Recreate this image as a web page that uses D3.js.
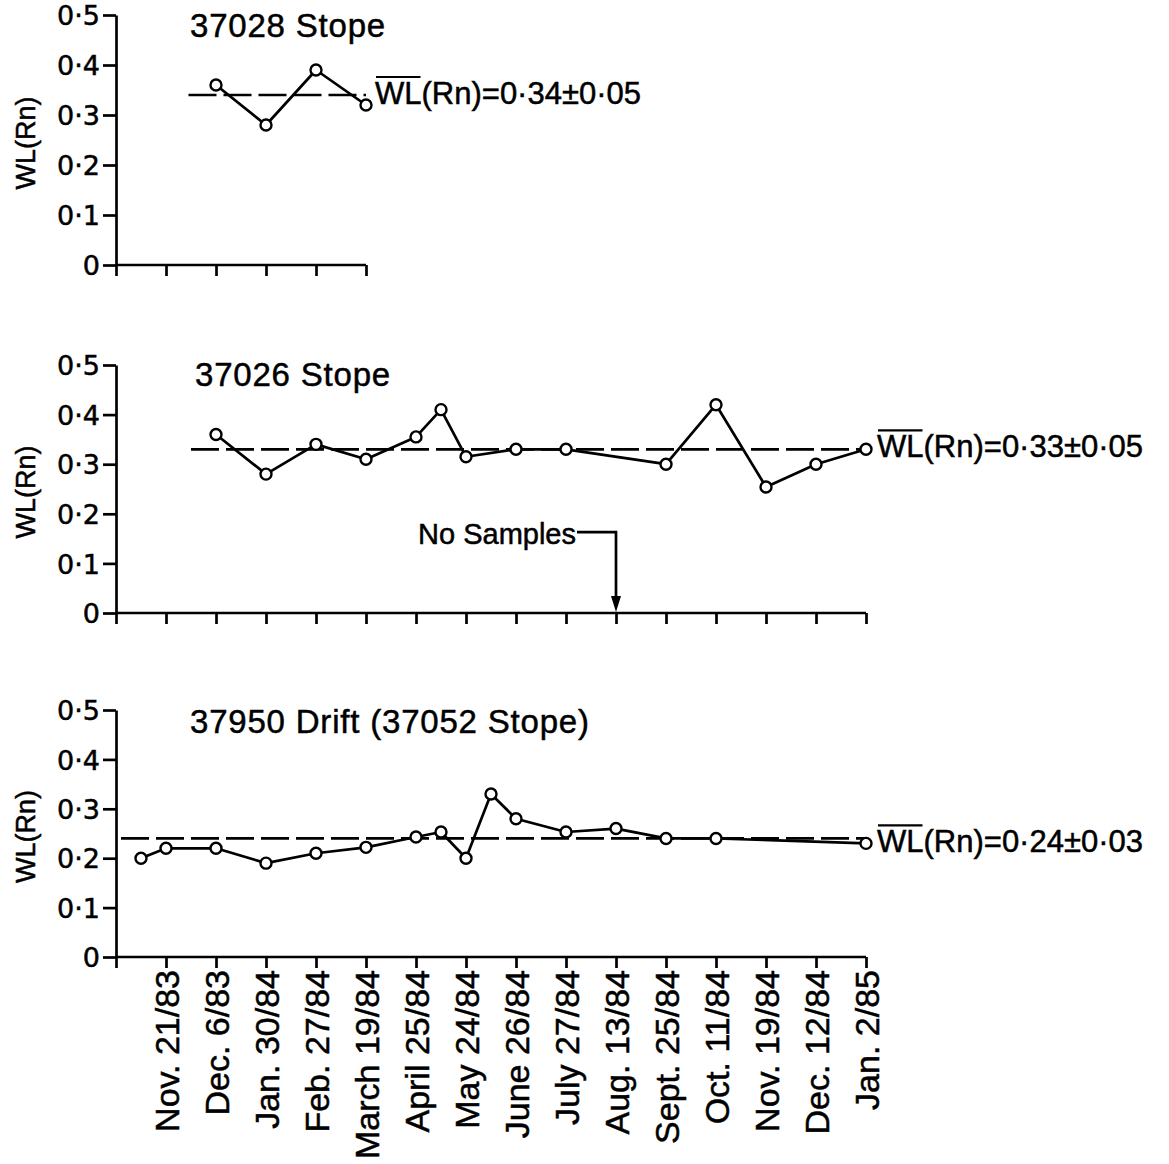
<!DOCTYPE html>
<html>
<head>
<meta charset="utf-8">
<script src="https://cdn.jsdelivr.net/npm/d3@7"></script>
<style>
  html, body { margin: 0; padding: 0; background: #fff; }
  svg { display: block; }
  text { font-family: "Liberation Sans", Arial, sans-serif; fill: #000; stroke: #000; stroke-width: 0.5px; }
</style>
</head>
<body>
<svg id="chart" width="1169" height="1164"></svg>
<script>
// ---------------- DATA ----------------
const dateLabels = ["Nov. 21/83", "Dec. 6/83", "Jan. 30/84", "Feb. 27/84", "March 19/84",
  "April 25/84", "May 24/84", "June 26/84", "July 27/84", "Aug. 13/84", "Sept. 25/84",
  "Oct. 11/84", "Nov. 19/84", "Dec. 12/84", "Jan. 2/85"];
const yTickValues = [0, 0.1, 0.2, 0.3, 0.4, 0.5];
const yTickLabels = ["0", "0·1", "0·2", "0·3", "0·4", "0·5"];

const panelTitles = ["37028 Stope", "37026 Stope", "37950 Drift (37052 Stope)"];
const meanValues = [0.34, 0.33, 0.24];
const meanLabels = ["WL(Rn)=0·34±0·05", "WL(Rn)=0·33±0·05", "WL(Rn)=0·24±0·03"];
// mean line extent in sample-slot units
const meanStart = [0.45, 0.5, -0.9];
const meanEnd = [4, 14, 14];

// sample slot = index in dateLabels (fractional = sample between two dated ticks)
const p1Slots = [1, 2, 3, 4];
const p1Values = [0.36, 0.28, 0.39, 0.32];
const p2Slots = [1, 2, 3, 4, 5, 5.5, 6, 7, 8, 10, 11, 12, 13, 14];
const p2Values = [0.36, 0.28, 0.34, 0.31, 0.355, 0.41, 0.315, 0.33, 0.33, 0.30, 0.42, 0.254, 0.30, 0.33];
const p3Slots = [-0.5, 0, 1, 2, 3, 4, 5, 5.5, 6, 6.5, 7, 8, 9, 10, 11, 14];
const p3Values = [0.20, 0.22, 0.22, 0.19, 0.21, 0.222, 0.243, 0.253, 0.20, 0.33, 0.28, 0.253, 0.26, 0.24, 0.24, 0.23];

const noSampleSlot = 9;
const noSampleText = "No Samples";
const yTitle = "WL(Rn)";

// ---------------- LAYOUT ----------------
const svg = d3.select("#chart");
const x = d3.scaleLinear().domain([-1, 14]).range([116, 866]);

const panels = [
  { top: 15, bottom: 265, lastSlot: 4, slots: p1Slots, values: p1Values, titleX: 190, titleDy: 22,
    labelX: x(4) + 9, labelDy: 9, dates: false },
  { top: 365, bottom: 613, lastSlot: 14, slots: p2Slots, values: p2Values, titleX: 195, titleDy: 21,
    labelX: x(14) + 11, labelDy: 8, dates: false },
  { top: 710, bottom: 957, lastSlot: 14, slots: p3Slots, values: p3Values, titleX: 190, titleDy: 23,
    labelX: x(14) + 11, labelDy: 14, dates: true }
];

const SW = 2.7;

panels.forEach((p, k) => {
  const y = d3.scaleLinear().domain([0, 0.5]).range([p.bottom, p.top]);
  const g = svg.append("g");

  // Y axis
  const yAxis = d3.axisLeft(y)
    .tickValues(yTickValues)
    .tickFormat((d, i) => yTickLabels[i])
    .tickSize(13).tickSizeOuter(0).tickPadding(3);
  const ya = g.append("g").attr("transform", `translate(${x(-1)},0)`).call(yAxis);
  ya.selectAll("path, line").attr("stroke", "#000").attr("stroke-width", SW);
  ya.selectAll("text").style("font-size", "27px").style("font-family", "'DejaVu Sans', sans-serif").attr("dy", "0.36em");

  // X axis
  const xt = d3.range(-1, p.lastSlot + 1);
  const xAxis = d3.axisBottom(x)
    .tickValues(xt)
    .tickFormat(d => (p.dates && d >= 0) ? dateLabels[d] : "")
    .tickSize(11).tickSizeOuter(0).tickPadding(3);
  const xa = g.append("g").attr("transform", `translate(0,${p.bottom})`).call(xAxis);
  xa.select(".domain").attr("d", `M${x(-1)},0H${x(p.lastSlot)}`);
  xa.selectAll("path, line").attr("stroke", "#000").attr("stroke-width", SW);
  xa.selectAll("text")
    .style("font-size", "34px")
    .attr("text-anchor", "end")
    .attr("transform", "rotate(-90)")
    .attr("x", -13).attr("y", 0).attr("dy", "0.36em");

  // Y title
  const cy = (p.top + p.bottom) / 2 + 3;
  g.append("text")
    .attr("transform", `translate(35,${cy}) rotate(-90)`)
    .attr("text-anchor", "middle")
    .style("font-size", "27px")
    .text(yTitle);

  // Panel title
  g.append("text")
    .attr("x", p.titleX).attr("y", p.top + p.titleDy)
    .style("font-size", "33px")
    .style("letter-spacing", "0.8px")
    .text(panelTitles[k]);

  // Mean dashed line
  g.append("line")
    .attr("x1", x(meanStart[k])).attr("x2", x(meanEnd[k]))
    .attr("y1", y(meanValues[k])).attr("y2", y(meanValues[k]))
    .attr("stroke", "#000").attr("stroke-width", SW)
    .attr("stroke-dasharray", "28,7");

  // Data line
  const pts = p.slots.map((s, i) => [s, p.values[i]]);
  g.append("path")
    .datum(pts)
    .attr("fill", "none").attr("stroke", "#000").attr("stroke-width", SW)
    .attr("stroke-linejoin", "round")
    .attr("d", d3.line().x(d => x(d[0])).y(d => y(d[1])));
  g.selectAll("circle.pt").data(pts).join("circle")
    .attr("class", "pt")
    .attr("cx", d => x(d[0])).attr("cy", d => y(d[1]))
    .attr("r", 5.5)
    .attr("fill", "#fff").attr("stroke", "#000").attr("stroke-width", 2.4);

  // Mean label with overline on "WL"
  const lbl = g.append("text")
    .attr("x", p.labelX).attr("y", y(meanValues[k]) + p.labelDy)
    .style("font-size", "31px")
    .text(meanLabels[k]);
  const wlW = lbl.node().getSubStringLength(0, 2);
  const by = y(meanValues[k]) + p.labelDy;
  g.append("line")
    .attr("x1", p.labelX + 1).attr("x2", p.labelX + wlW - 1)
    .attr("y1", by - 27).attr("y2", by - 27)
    .attr("stroke", "#000").attr("stroke-width", 2.2);

  // "No Samples" annotation (panel 2)
  if (k === 1) {
    const ax = x(noSampleSlot);
    const ly = y(0.163);
    g.append("text")
      .attr("x", ax - 40).attr("y", y(0.14))
      .attr("text-anchor", "end")
      .style("font-size", "29px")
      .text(noSampleText);
    g.append("path")
      .attr("d", `M${ax - 39},${ly}H${ax}V${p.bottom - 14}`)
      .attr("fill", "none").attr("stroke", "#000").attr("stroke-width", SW);
    g.append("path")
      .attr("d", `M${ax - 5},${p.bottom - 17}L${ax + 5},${p.bottom - 17}L${ax},${p.bottom - 1}Z`)
      .attr("fill", "#000");
  }
});
</script>
</body>
</html>
